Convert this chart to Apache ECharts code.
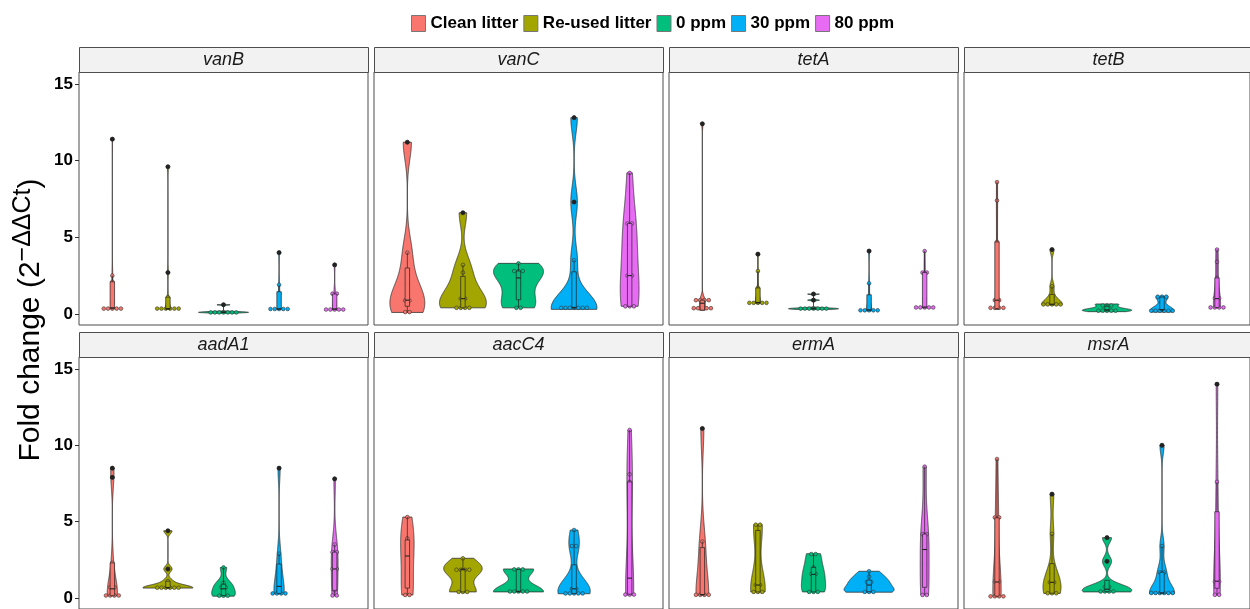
<!DOCTYPE html>
<html><head><meta charset="utf-8">
<script src="https://cdn.jsdelivr.net/npm/echarts@6/dist/echarts.min.js"></script>
<style>html,body{margin:0;padding:0;background:#fff}#c{width:1250px;height:609px}</style>
</head><body><div id="c"></div>
<script>
// ---------------- data ----------------
const groups = ['Clean litter', 'Re-used litter', '0 ppm', '30 ppm', '80 ppm'];
const genes = ['vanB', 'vanC', 'tetA', 'tetB', 'aadA1', 'aacC4', 'ermA', 'msrA'];
const yTicks = [0, 5, 10, 15];

const vanB = [
  [0.3, 0.35, 0.35, 0.4, 0.4, 0.75, 2.1, 2.5, 11.4],
  [0.3, 0.3, 0.3, 0.3, 0.35, 0.4, 1.1, 2.7, 9.6],
  [0.05, 0.08, 0.1, 0.1, 0.12, 0.15, 0.15, 0.6],
  [0.3, 0.3, 0.3, 0.33, 0.35, 1.3, 1.9, 4.0],
  [0.25, 0.28, 0.3, 0.3, 0.33, 0.6, 1.3, 1.35, 3.2]
];
const vanC = [
  [0.1, 0.15, 0.85, 0.9, 2.0, 4.0, 11.2],
  [0.4, 0.4, 0.4, 0.4, 1.0, 1.0, 1.7, 2.7, 3.2, 6.6],
  [0.4, 0.4, 1.1, 1.9, 2.8, 2.8, 2.8, 3.3],
  [0.3, 0.35, 0.4, 0.4, 0.4, 0.45, 0.5, 3.5, 7.3, 12.8],
  [0.5, 0.5, 0.5, 2.5, 2.5, 4.5, 5.9, 5.9, 9.2]
];
const tetA = [
  [0.25, 0.25, 0.25, 0.25, 0.5, 0.9, 0.9, 0.9, 0.9, 12.4],
  [0.7, 0.7, 0.7, 0.7, 0.75, 1.0, 1.7, 2.8, 3.9],
  [0.3, 0.3, 0.33, 0.35, 0.35, 0.38, 0.4, 0.9, 1.3],
  [0.2, 0.22, 0.25, 0.25, 0.28, 1.0, 2.0, 4.1],
  [0.4, 0.4, 0.4, 0.42, 0.45, 1.0, 2.7, 2.7, 4.1]
];
const tetB = [
  [0.3, 0.35, 0.35, 0.5, 0.9, 0.9, 4.7, 7.4, 8.6],
  [0.6, 0.6, 0.6, 0.62, 0.65, 1.1, 1.8, 4.2],
  [0.15, 0.22, 0.25, 0.25, 0.28, 0.45, 0.65, 0.65],
  [0.12, 0.22, 0.25, 0.25, 0.28, 0.3, 1.1, 1.1, 1.15],
  [0.4, 0.4, 0.42, 0.45, 1.0, 1.05, 2.35, 3.4, 4.2]
];
const aadA1 = [
  [0.15, 0.15, 0.15, 0.18, 0.6, 0.8, 2.3, 7.9, 8.5],
  [0.65, 0.65, 0.65, 0.65, 0.68, 0.7, 1.1, 1.9, 4.4],
  [0.12, 0.15, 0.18, 0.6, 0.8, 1.0, 2.0],
  [0.28, 0.3, 0.3, 0.32, 1.2, 2.0, 2.9, 8.5],
  [0.15, 0.18, 0.5, 1.9, 1.9, 3.0, 3.0, 3.5, 7.8]
];
const aacC4 = [
  [0.2, 0.2, 2.0, 3.5, 3.9, 5.3],
  [0.4, 0.4, 0.4, 1.8, 1.9, 1.9, 1.9, 2.6],
  [0.4, 0.4, 0.4, 0.42, 0.45, 1.85, 1.9, 1.9],
  [0.28, 0.3, 0.3, 0.3, 0.32, 0.6, 0.6, 0.95, 3.4, 3.4, 4.45],
  [0.2, 0.2, 0.25, 0.7, 1.3, 6.6, 7.6, 8.1, 11.0]
];
const ermA = [
  [0.2, 0.2, 0.2, 0.22, 2.9, 3.7, 11.1],
  [0.4, 0.4, 0.4, 0.85, 0.85, 4.3, 4.8, 4.8],
  [0.4, 0.4, 0.4, 1.0, 1.55, 1.6, 2.0, 2.85, 2.9],
  [0.38, 0.4, 0.42, 0.7, 1.0, 1.1, 1.4, 1.75],
  [0.2, 0.2, 2.2, 4.15, 4.2, 8.6]
];
const msrA = [
  [0.1, 0.1, 0.12, 0.12, 1.05, 1.1, 5.25, 5.3, 9.1],
  [0.3, 0.3, 0.32, 1.0, 1.05, 1.6, 4.2, 6.8],
  [0.4, 0.4, 0.42, 0.45, 0.7, 0.75, 2.4, 3.95],
  [0.3, 0.3, 0.3, 0.3, 0.32, 0.35, 1.65, 1.7, 3.4, 10.0],
  [0.2, 0.22, 1.05, 1.1, 3.7, 7.6, 14.0]
];
const geneData = [vanB, vanC, tetA, tetB, aadA1, aacC4, ermA, msrA];

// ---------------- styles / layout ----------------
const colors = ['#F8766D', '#A3A500', '#00BF7D', '#00B0F6', '#E76BF3'];
const FONT = 'Liberation Sans, Arial, sans-serif';
const colLeft = [79, 374, 669, 964];
const rowTop = [72, 357];
const stripH = 25;
const panelW = 289, panelH = 253;
const yMin = -0.72, yMax = 15.78;
const boxHalf = 0.04;

// ---------------- stats ----------------
function quant(s, p) {
  const h = (s.length - 1) * p, lo = Math.floor(h);
  if (lo + 1 >= s.length) return s[s.length - 1];
  return s[lo] + (h - lo) * (s[lo + 1] - s[lo]);
}
function sdev(x) {
  const m = x.reduce((a, b) => a + b, 0) / x.length;
  return Math.sqrt(x.reduce((a, b) => a + (b - m) * (b - m), 0) / (x.length - 1));
}
function bwNrd0(s) {
  const hi = sdev(s);
  let lo = Math.min(hi, (quant(s, 0.75) - quant(s, 0.25)) / 1.34);
  if (!(lo > 0)) lo = hi || Math.abs(s[0]) || 1;
  return 0.9 * lo * Math.pow(s.length, -0.2);
}
const stats = geneData.map(panel => {
  const st = panel.map(vals => {
    const s = vals.slice().sort((a, b) => a - b);
    const n = s.length, bw = bwNrd0(s);
    const lo = s[0], hi = s[n - 1];
    const ys = [], d = [];
    const N = 256;
    for (let i = 0; i < N; i++) {
      const y = lo + (hi - lo) * i / (N - 1);
      let sum = 0;
      for (const v of s) { const z = (y - v) / bw; sum += Math.exp(-0.5 * z * z); }
      ys.push(y); d.push(sum / (n * bw * Math.sqrt(2 * Math.PI)));
    }
    const q1 = quant(s, 0.25), med = quant(s, 0.5), q3 = quant(s, 0.75);
    const iqr = q3 - q1;
    const inside = s.filter(v => v >= q1 - 1.5 * iqr && v <= q3 + 1.5 * iqr);
    const outl = s.filter(v => v < q1 - 1.5 * iqr || v > q3 + 1.5 * iqr);
    const binw = 0.28;
    const bins = [];
    let i = 0;
    while (i < n) {
      const start = s[i]; let j = i;
      while (j + 1 < n && s[j + 1] < start + binw) j++;
      bins.push({ c: (s[i] + s[j]) / 2, k: j - i + 1 });
      i = j + 1;
    }
    return { s, ys, d, q1, med, q3, wlo: Math.min(...inside), whi: Math.max(...inside), outl, bins, binw };
  });
  const maxD = Math.max(...st.map(g => Math.max(...g.d)));
  st.forEach(g => g.maxD = maxD);
  return st;
});

function makeRender(p, g) {
  const st = stats[p][g];
  const col = colors[g];
  return function (params, api) {
    const cx = g + 1;
    const ch = [];
    const left = [], right = [];
    for (let i = 0; i < st.ys.length; i++) {
      const hw = st.d[i] / st.maxD * 0.45;
      left.push(api.coord([cx - hw, st.ys[i]]));
      right.push(api.coord([cx + hw, st.ys[i]]));
    }
    ch.push({ type: 'polygon', shape: { points: left.concat(right.reverse()) },
      style: { fill: col, stroke: '#333', lineWidth: 0.8 } });
    const diam = api.size([0, st.binw])[1];
    st.bins.forEach(b => {
      const c = api.coord([cx, b.c]);
      for (let k = 0; k < b.k; k++) {
        const off = (k - (b.k - 1) / 2) * diam;
        ch.push({ type: 'circle', shape: { cx: c[0] + off, cy: c[1], r: diam / 2 - 0.3 },
          style: { fill: col, stroke: '#333', lineWidth: 0.6 } });
      }
    });
    const pTop = api.coord([cx - boxHalf, st.q3]);
    const pBot = api.coord([cx + boxHalf, st.q1]);
    const pc = api.coord([cx, 0])[0];
    ch.push({ type: 'line', shape: { x1: pc, y1: api.coord([cx, st.whi])[1], x2: pc, y2: pTop[1] }, style: { stroke: '#222', lineWidth: 0.7 } });
    ch.push({ type: 'line', shape: { x1: pc, y1: api.coord([cx, st.wlo])[1], x2: pc, y2: pBot[1] }, style: { stroke: '#222', lineWidth: 0.7 } });
    ch.push({ type: 'rect', shape: { x: pTop[0], y: pTop[1], width: pBot[0] - pTop[0], height: Math.max(0.5, pBot[1] - pTop[1]) },
      style: { fill: col, stroke: '#222', lineWidth: 0.7 } });
    const pm = api.coord([cx - boxHalf, st.med]);
    ch.push({ type: 'line', shape: { x1: pTop[0], y1: pm[1], x2: pBot[0], y2: pm[1] }, style: { stroke: '#222', lineWidth: 1.1 } });
    st.outl.forEach(v => {
      const c = api.coord([cx, v]);
      ch.push({ type: 'circle', shape: { cx: c[0], cy: c[1], r: 2.1 }, style: { fill: '#222', stroke: '#222', lineWidth: 0.5 } });
    });
    return { type: 'group', children: ch };
  };
}

// ---------------- option ----------------
const grid = [], xAxis = [], yAxis = [], series = [], graphic = [];
genes.forEach((gene, p) => {
  const c = p % 4, r = Math.floor(p / 4);
  grid.push({ left: colLeft[c], top: rowTop[r], width: panelW, height: panelH, show: true,
    borderColor: '#4d4d4d', borderWidth: 1, backgroundColor: '#fff' });
  xAxis.push({ type: 'value', gridIndex: p, min: 0.4, max: 5.6, show: false });
  yAxis.push({ type: 'value', gridIndex: p, min: yMin, max: yMax,
    axisLine: { show: false }, splitLine: { show: false },
    axisTick: { show: c === 0, customValues: yTicks, length: 4, lineStyle: { color: '#333', width: 1 } },
    axisLabel: { show: c === 0, customValues: yTicks, fontSize: 17, fontWeight: 'bold', color: '#000', margin: 6, fontFamily: FONT } });
  graphic.push({ type: 'rect', silent: true,
    shape: { x: colLeft[c] + 0.5, y: rowTop[r] - stripH + 0.5, width: panelW, height: stripH },
    style: { fill: '#F2F2F2', stroke: '#4d4d4d', lineWidth: 1 } });
  graphic.push({ type: 'text', silent: true, x: colLeft[c] + panelW / 2, y: rowTop[r] - stripH / 2,
    style: { text: gene, fontSize: 18, fontStyle: 'italic', fill: '#1a1a1a', fontFamily: FONT, align: 'center', verticalAlign: 'middle' } });
  groups.forEach((gname, g) => {
    series.push({ type: 'custom', name: gname, xAxisIndex: p, yAxisIndex: p, silent: true,
      itemStyle: { color: colors[g] }, data: [[g + 1, stats[p][g].s[stats[p][g].s.length - 1]]],
      renderItem: makeRender(p, g), clip: false, z: 2 });
  });
});
graphic.push({ type: 'text', silent: true, x: 31, y: 320, rotation: Math.PI / 2,
  style: { text: '{m|Fold change (2}{s|\u2212\u0394\u0394Ct}{m|)}', align: 'center', verticalAlign: 'middle',
    rich: { m: { fontSize: 30, fontFamily: FONT, fill: '#000', lineHeight: 40 },
            s: { fontSize: 25, fontFamily: FONT, fill: '#000', verticalAlign: 'top', lineHeight: 40 } } } });

const option = {
  animation: false,
  backgroundColor: '#fff',
  legend: { left: 406, top: 10, itemWidth: 14, itemHeight: 16, itemGap: 5, icon: 'rect', selectedMode: false,
    textStyle: { fontSize: 17, fontWeight: 'bold', color: '#000', fontFamily: FONT },
    data: groups.map((n, i) => ({ name: n, itemStyle: { color: colors[i], borderColor: '#777', borderWidth: 1 } })) },
  grid, xAxis, yAxis, series, graphic
};
const chart = echarts.init(document.getElementById('c'), null, { renderer: 'canvas' });
chart.setOption(option);
</script></body></html>
